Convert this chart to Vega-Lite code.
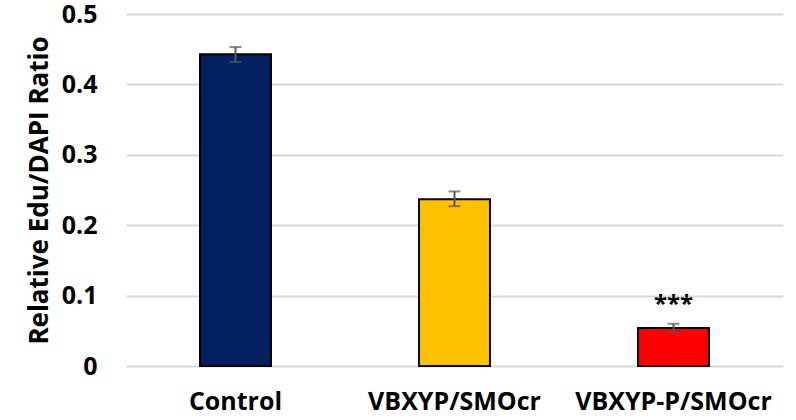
{
  "$schema": "https://vega.github.io/schema/vega-lite/v6.json",
  "width": 657,
  "height": 352,
  "autosize": {"type": "none"},
  "padding": {"left": 126, "top": 14, "right": 13, "bottom": 54},
  "background": "#ffffff",
  "config": {
    "view": {"stroke": null},
    "font": "Open Sans"
  },
  "data": {
    "values": [
      {"group": "Control", "value": 0.443, "lo": 0.432, "hi": 0.453, "sig": ""},
      {"group": "VBXYP/SMOcr", "value": 0.237, "lo": 0.227, "hi": 0.248, "sig": ""},
      {"group": "VBXYP-P/SMOcr", "value": 0.054, "lo": 0.048, "hi": 0.060, "sig": "***", "sigY": 0.086}
    ]
  },
  "encoding": {
    "x": {
      "field": "group",
      "type": "nominal",
      "sort": null,
      "scale": {"paddingInner": 0.676, "paddingOuter": 0.338},
      "axis": {
        "title": null,
        "labelAngle": 0,
        "labelFont": "Open Sans",
        "labelFontWeight": "bold",
        "labelFontSize": 25,
        "labelColor": "#000000",
        "labelPadding": 23,
        "labelLimit": 0,
        "ticks": false,
        "domain": false,
        "grid": false
      }
    }
  },
  "layer": [
    {
      "mark": {"type": "bar", "stroke": "#000000", "strokeWidth": 2},
      "encoding": {
        "y": {
          "field": "value",
          "type": "quantitative",
          "scale": {"domain": [0, 0.5], "nice": false},
          "axis": {
            "title": "Relative Edu/DAPI Ratio",
            "titleFont": "Open Sans",
            "titleFontWeight": "bold",
            "titleFontSize": 26,
            "titleColor": "#000000",
            "titlePadding": 9,
            "values": [0, 0.1, 0.2, 0.3, 0.4, 0.5],
            "format": "~g",
            "labelFont": "Open Sans",
            "labelFontWeight": "bold",
            "labelFontSize": 25,
            "labelColor": "#000000",
            "labelPadding": 29,
            "ticks": false,
            "domain": false,
            "grid": true,
            "gridColor": "#d9d9d9",
            "gridWidth": 2
          }
        },
        "color": {
          "field": "group",
          "type": "nominal",
          "scale": {
            "domain": ["Control", "VBXYP/SMOcr", "VBXYP-P/SMOcr"],
            "range": ["#002060", "#ffc000", "#ff0000"]
          },
          "legend": null
        }
      }
    },
    {
      "mark": {"type": "rule", "color": "#595959", "strokeWidth": 2},
      "encoding": {
        "y": {"field": "lo", "type": "quantitative"},
        "y2": {"field": "hi"}
      }
    },
    {
      "mark": {"type": "tick", "color": "#595959", "thickness": 2, "size": 12},
      "encoding": {
        "y": {"field": "lo", "type": "quantitative"}
      }
    },
    {
      "mark": {"type": "tick", "color": "#595959", "thickness": 2, "size": 12},
      "encoding": {
        "y": {"field": "hi", "type": "quantitative"}
      }
    },
    {
      "transform": [{"filter": "datum.sig != ''"}],
      "mark": {"type": "text", "font": "Open Sans", "fontWeight": "bold", "fontSize": 24, "baseline": "middle", "color": "#000000"},
      "encoding": {
        "y": {"field": "sigY", "type": "quantitative"},
        "text": {"field": "sig"}
      }
    }
  ]
}
